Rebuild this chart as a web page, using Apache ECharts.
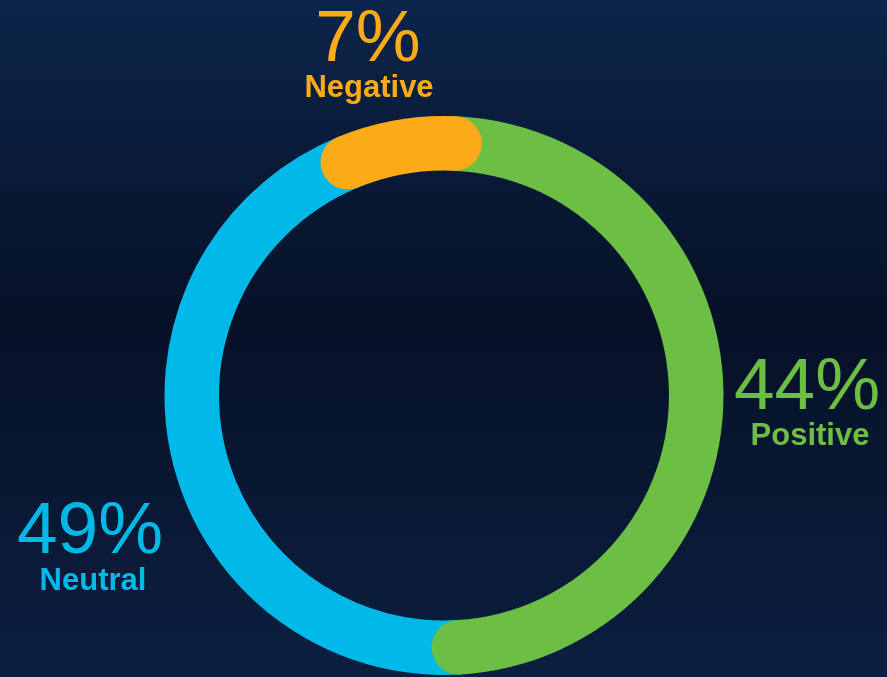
<!DOCTYPE html>
<html><head><meta charset="utf-8">
<script src="https://cdn.jsdelivr.net/npm/echarts@6/dist/echarts.min.js"></script>
<style>html,body{margin:0;padding:0;background:#061127}#c{width:887px;height:677px}</style>
</head><body><div id="c"></div>
<script>
// Data
const categories = ['Positive', 'Neutral', 'Negative'];
const percents = [44, 49, 7];              // printed labels
const arcShares = [48.4, 44.7, 6.9];       // share of the ring each coloured arc covers, as drawn
const colors = ['#6DBE45', '#00B9E8', '#FBAB18'];

// Layout / style (not data)
const drawOrder = [3, 2, 4];
const labelPos = [
  { x: 807, yBig: 389, xSmall: 810, ySmall: 436 },
  { x: 90, yBig: 533, xSmall: 93, ySmall: 581 },
  { x: 368, yBig: 41, xSmall: 369, ySmall: 88 }
];
const FONT = "'Liberation Sans', Arial, Helvetica, sans-serif";

const chart = echarts.init(document.getElementById('c'), null, { renderer: 'canvas' });

const graphics = [];
categories.forEach((name, i) => {
  const p = labelPos[i];
  graphics.push({
    type: 'text', z: 10,
    style: {
      text: percents[i] + '%', x: p.x, y: p.yBig,
      font: 'normal 73px ' + FONT, fill: colors[i],
      textAlign: 'center', textVerticalAlign: 'middle'
    }
  });
  graphics.push({
    type: 'text', z: 10,
    style: {
      text: name, x: p.xSmall, y: p.ySmall,
      font: 'bold 31px ' + FONT, fill: colors[i],
      textAlign: 'center', textVerticalAlign: 'middle'
    }
  });
});

chart.setOption({
  animation: false,
  backgroundColor: {
    type: 'linear', x: 0, y: 0, x2: 0, y2: 1,
    colorStops: [
      { offset: 0, color: '#0d254a' },
      { offset: 0.47, color: '#061127' },
      { offset: 1, color: '#0c1f40' }
    ]
  },
  polar: { center: [444, 395.5], radius: [225, 279.5] },
  angleAxis: { type: 'value', min: 0, max: 100, startAngle: 87.6, clockwise: true, show: false },
  radiusAxis: { type: 'category', data: ['ring'], show: false },
  series: categories.map((name, i) => ({
    type: 'bar',
    name: name,
    coordinateSystem: 'polar',
    stack: 'ring',
    roundCap: true,
    barCategoryGap: '0%',
    z: drawOrder[i],
    data: [arcShares[i]],
    itemStyle: { color: colors[i] },
    silent: true
  })),
  graphic: graphics
});
</script>
</body></html>
